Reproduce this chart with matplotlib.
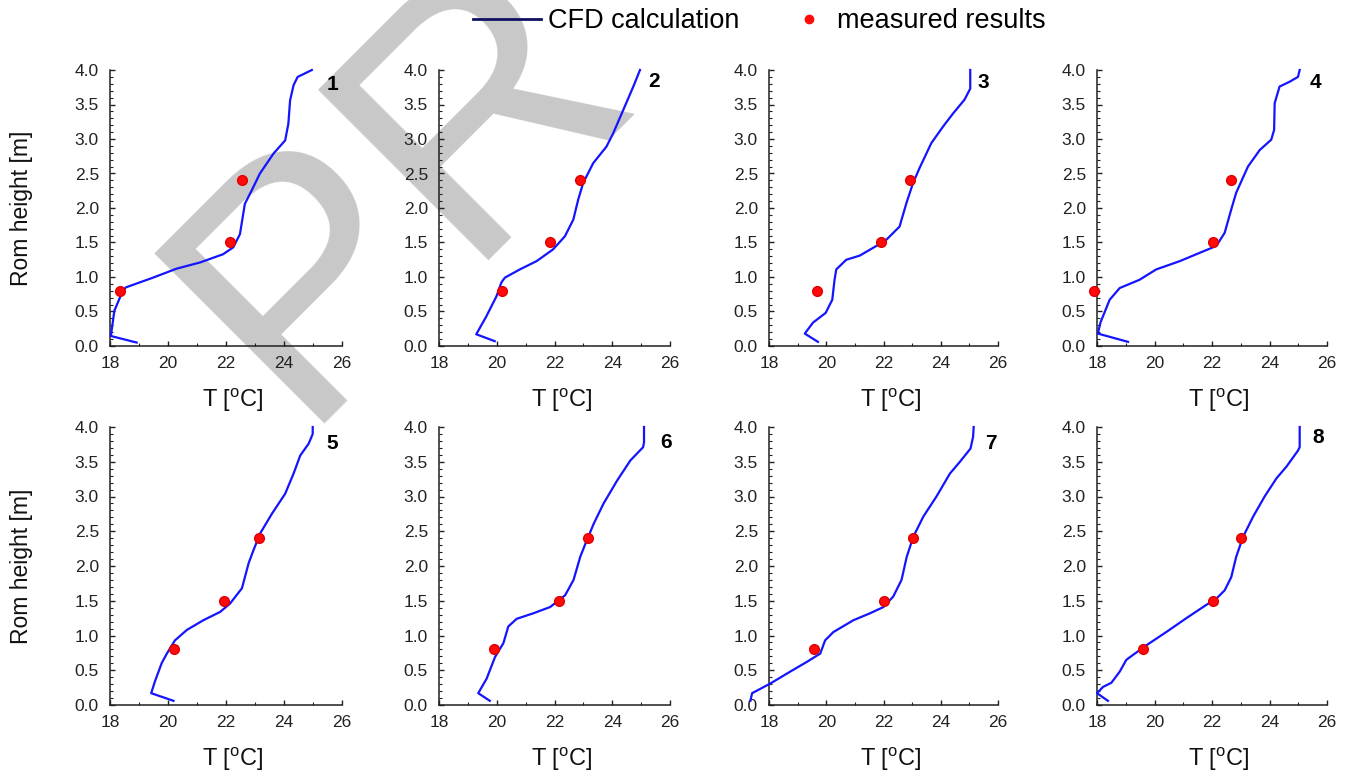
import matplotlib
matplotlib.use("Agg")
import matplotlib.pyplot as plt
from matplotlib.ticker import MultipleLocator, FormatStrFormatter
from matplotlib.lines import Line2D

plt.rcParams['font.family'] = ['Liberation Sans', 'DejaVu Sans']
plt.rcParams['mathtext.fontset'] = 'custom'
plt.rcParams['mathtext.rm'] = 'Liberation Sans'

# ---------------- data ----------------
panel_ids = ["1", "2", "3", "4", "5", "6", "7", "8"]
x_ticks = [18, 20, 22, 24, 26]
meas_h = [0.8, 1.5, 2.4]

cfd1_T = [18.92, 18.03, 18.15, 18.44, 18.55, 19.48, 20.29, 21.1, 21.9, 22.25, 22.48, 22.65, 22.88, 23.17, 23.64, 24.04, 24.15, 24.21, 24.33, 24.47, 24.67, 24.96]
cfd1_h = [0.05, 0.145, 0.51, 0.80, 0.85, 0.99, 1.12, 1.21, 1.33, 1.43, 1.62, 2.06, 2.25, 2.50, 2.79, 2.98, 3.22, 3.56, 3.78, 3.90, 3.94, 4.0]
meas1_T = [18.36, 22.13, 22.55]

cfd2_T = [19.93, 19.29, 19.64, 19.99, 20.16, 20.28, 20.80, 21.38, 21.95, 22.36, 22.65, 22.82, 22.99, 23.34, 23.80, 24.03, 24.38, 24.73, 24.96]
cfd2_h = [0.07, 0.17, 0.43, 0.72, 0.92, 0.99, 1.11, 1.23, 1.40, 1.59, 1.83, 2.12, 2.36, 2.65, 2.89, 3.08, 3.42, 3.76, 4.0]
meas2_T = [20.18, 21.86, 22.88]

cfd3_T = [19.71, 19.25, 19.54, 19.98, 20.21, 20.29, 20.35, 20.70, 21.17, 21.75, 22.10, 22.56, 22.80, 23.03, 23.26, 23.67, 24.08, 24.43, 24.83, 25.03, 25.03]
cfd3_h = [0.06, 0.18, 0.34, 0.48, 0.67, 0.96, 1.11, 1.25, 1.31, 1.45, 1.54, 1.73, 2.07, 2.36, 2.58, 2.94, 3.18, 3.37, 3.57, 3.73, 4.0]
meas3_T = [19.68, 21.90, 22.94]

cfd4_T = [19.08, 18.03, 18.12, 18.44, 18.79, 19.48, 20.06, 20.88, 21.57, 22.15, 22.44, 22.67, 22.84, 23.25, 23.66, 24.06, 24.16, 24.18, 24.35, 24.70, 24.99, 25.05]
cfd4_h = [0.06, 0.18, 0.34, 0.67, 0.84, 0.96, 1.11, 1.23, 1.35, 1.45, 1.64, 1.98, 2.22, 2.60, 2.84, 2.99, 3.13, 3.52, 3.76, 3.83, 3.90, 4.0]
meas4_T = [17.90, 22.03, 22.65]

cfd5_T = [20.19, 19.42, 19.55, 19.78, 19.96, 20.24, 20.65, 21.22, 21.80, 22.14, 22.55, 22.78, 22.95, 23.18, 23.58, 24.04, 24.33, 24.56, 24.85, 24.99, 24.99]
cfd5_h = [0.06, 0.17, 0.34, 0.60, 0.74, 0.93, 1.08, 1.22, 1.34, 1.46, 1.68, 2.04, 2.23, 2.47, 2.75, 3.04, 3.33, 3.59, 3.76, 3.90, 4.0]
meas5_T = [20.19, 21.94, 23.14]

cfd6_T = [19.76, 19.36, 19.65, 19.94, 20.23, 20.40, 20.69, 21.27, 21.85, 22.37, 22.66, 22.89, 23.07, 23.36, 23.70, 24.17, 24.63, 25.07, 25.10, 25.10]
cfd6_h = [0.06, 0.17, 0.38, 0.69, 0.89, 1.13, 1.24, 1.32, 1.41, 1.58, 1.80, 2.13, 2.32, 2.61, 2.90, 3.23, 3.52, 3.71, 3.78, 4.0]
meas6_T = [19.91, 22.16, 23.15]

cfd7_T = [17.35, 17.41, 18.05, 18.74, 19.32, 19.79, 19.96, 20.25, 20.95, 21.53, 22.0, 22.34, 22.63, 22.81, 23.04, 23.39, 23.85, 24.32, 24.67, 25.04, 25.13, 25.15]
cfd7_h = [0.06, 0.17, 0.31, 0.48, 0.62, 0.74, 0.93, 1.05, 1.22, 1.32, 1.41, 1.56, 1.80, 2.13, 2.42, 2.71, 3.0, 3.33, 3.50, 3.69, 3.86, 4.0]
meas7_T = [19.56, 22.03, 23.02]

cfd8_T = [18.38, 18.0, 18.21, 18.50, 18.79, 19.02, 19.25, 19.72, 20.41, 21.11, 21.80, 22.15, 22.44, 22.67, 22.84, 23.08, 23.43, 23.83, 24.24, 24.59, 24.99, 25.05, 25.05]
cfd8_h = [0.06, 0.17, 0.26, 0.32, 0.48, 0.65, 0.72, 0.86, 1.05, 1.25, 1.44, 1.53, 1.65, 1.84, 2.13, 2.42, 2.71, 3.0, 3.26, 3.43, 3.66, 3.71, 4.0]
meas8_T = [19.60, 22.03, 23.02]

cfd_T = [cfd1_T, cfd2_T, cfd3_T, cfd4_T, cfd5_T, cfd6_T, cfd7_T, cfd8_T]
cfd_h = [cfd1_h, cfd2_h, cfd3_h, cfd4_h, cfd5_h, cfd6_h, cfd7_h, cfd8_h]
meas_T = [meas1_T, meas2_T, meas3_T, meas4_T, meas5_T, meas6_T, meas7_T, meas8_T]

# ---------------- layout ----------------
W, H = 1349, 777
fig = plt.figure(figsize=(W / 100, H / 100), dpi=100)
fig.patch.set_facecolor('white')

col_px = [(110, 342), (439, 670), (769, 998), (1097, 1327)]
row_px = [(70, 346), (427, 705)]
num_pos = [(0.961, 0.946), (0.93, 0.957), (0.934, 0.953), (0.948, 0.953),
           (0.957, 0.942), (0.983, 0.946), (0.969, 0.942), (0.961, 0.964)]

# watermark
fig.text(296 / W, 1 - 424 / H, "PR", fontsize=251, rotation=45,
         rotation_mode='anchor', ha='left', va='baseline',
         color='#c8c8c8', zorder=-1)

LINE_C = '#1414ff'
DOT_C = '#ff0a0a'
AX_C = '#202020'

for i in range(8):
    r, c = divmod(i, 4)
    x0, x1 = col_px[c]
    yt, yb = row_px[r]
    ax = fig.add_axes([x0 / W, 1 - yb / H, (x1 - x0) / W, (yb - yt) / H])
    ax.patch.set_alpha(0)
    ax.plot(cfd_T[i], cfd_h[i], color=LINE_C, lw=1.6, clip_on=False, zorder=3)
    ax.plot(meas_T[i], meas_h, 'o', color=DOT_C, markersize=7,
            markeredgecolor='#e00000', clip_on=False, zorder=4)
    ax.set_xlim(18, 26)
    ax.set_ylim(0, 4.0)
    ax.set_xticks(x_ticks)
    ax.xaxis.set_minor_locator(MultipleLocator(1))
    ax.yaxis.set_major_locator(MultipleLocator(0.5))
    ax.yaxis.set_minor_locator(MultipleLocator(0.1))
    ax.yaxis.set_major_formatter(FormatStrFormatter('%.1f'))
    for s in ('top', 'right'):
        ax.spines[s].set_visible(False)
    for s in ('left', 'bottom'):
        ax.spines[s].set_color(AX_C)
        ax.spines[s].set_linewidth(1.1)
    ax.tick_params(which='major', direction='in', length=3.5, width=1,
                   color=AX_C, labelsize=12.5, labelcolor='#222222')
    ax.tick_params(which='minor', direction='in', length=2, width=0.8, color=AX_C)
    ax.tick_params(axis='x', which='major', pad=7)
    ax.tick_params(axis='y', which='major', pad=8)
    ax.set_xlabel(r"T [$^{\mathregular{o}}$C]", fontsize=17, color='#111111')
    ax.xaxis.set_label_coords(0.53, -0.145)
    if c == 0:
        ax.set_ylabel("Rom height [m]", fontsize=16.5, color='#111111')
        ax.yaxis.set_label_coords(-0.33, 0.5)
    ax.text(num_pos[i][0], num_pos[i][1], panel_ids[i], transform=ax.transAxes,
            fontsize=15, fontweight='bold', ha='center', va='center', color='black')

leg_y = 1 - 21 / H
leg1 = fig.legend([Line2D([], [], color='#101060', lw=2)], ["CFD calculation"],
                  loc='center left', bbox_to_anchor=(473 / W, leg_y), frameon=False,
                  fontsize=19.5, handlelength=2.5, handletextpad=0.26,
                  borderpad=0, borderaxespad=0)
leg2 = fig.legend([Line2D([], [], ls='none', marker='o', color=DOT_C, markersize=6)],
                  ["measured results"],
                  loc='center left', bbox_to_anchor=(795 / W, leg_y), frameon=False,
                  fontsize=19.5, handlelength=1.0, handletextpad=0.55,
                  borderpad=0, borderaxespad=0)

fig.savefig("out.png", dpi=100, facecolor='white')
